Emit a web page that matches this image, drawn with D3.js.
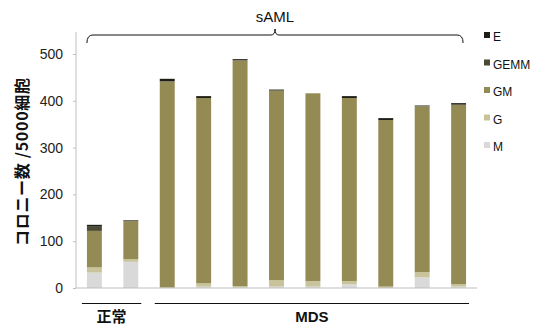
<!DOCTYPE html>
<html>
<head>
<meta charset="utf-8">
<script src="https://cdn.jsdelivr.net/npm/d3@7"></script>
<style>
  body { margin: 0; background: #fff; }
  svg { display: block; font-family: "Liberation Sans", Arial, sans-serif; }
</style>
</head>
<body>
<div id="chart"></div>
<script>
// Data
const samples = ["N1", "N2", "D1", "D2", "D3", "D4", "D5", "D6", "D7", "D8", "D9"];
const seriesKeys = ["M", "G", "GM", "GEMM", "E"];
const valM    = [33, 56, 0, 3, 1, 3, 3, 8, 0, 23, 3];
const valG    = [11, 6, 1, 7, 3, 14, 12, 7, 3, 11, 5];
const valGM   = [78, 81, 440, 396, 482, 405, 401, 391, 356, 354, 383];
const valGEMM = [9, 1, 1, 0, 1, 0, 0, 0, 0, 1, 1];
const valE    = [4, 1, 5, 4, 2, 2, 0, 4, 4, 1, 3];
const yTicks = [0, 100, 200, 300, 400, 500];
const legendItems = ["E", "GEMM", "GM", "G", "M"];
const groups = [
  { label: "正常", from: "N1", to: "N2" },
  { label: "MDS", from: "D1", to: "D9" }
];

const colors = {
  E: "#1e1e16",
  GEMM: "#4b4a34",
  GM: "#948a54",
  G: "#c9c39b",
  M: "#d9d9d9"
};

const width = 537, height = 328;
const svg = d3.select("#chart").append("svg")
  .attr("width", width)
  .attr("height", height);

const x = d3.scaleBand()
  .domain(samples)
  .range([76, 477])
  .paddingInner(0.59)
  .paddingOuter(0.3);

const y = d3.scaleLinear()
  .domain([0, 547])
  .range([288, 32]);

const rows = samples.map((s, i) => ({
  sample: s, M: valM[i], G: valG[i], GM: valGM[i], GEMM: valGEMM[i], E: valE[i]
}));
const stacked = d3.stack().keys(seriesKeys)(rows);

// bars
svg.append("g")
  .selectAll("g")
  .data(stacked)
  .join("g")
  .attr("fill", d => colors[d.key])
  .selectAll("rect")
  .data(d => d)
  .join("rect")
  .attr("x", d => x(d.data.sample))
  .attr("y", d => y(d[1]))
  .attr("width", x.bandwidth())
  .attr("height", d => y(d[0]) - y(d[1]));

// y axis
const yAxis = svg.append("g")
  .attr("transform", "translate(76,0)")
  .call(d3.axisLeft(y).tickValues(yTicks).tickSize(3).tickPadding(10));
yAxis.selectAll("line").attr("stroke", "#bfbfbf");
yAxis.select(".domain").attr("stroke", "#bfbfbf").attr("d", "M0,32V288");
yAxis.selectAll("text")
  .attr("font-size", 14)
  .attr("font-family", "Liberation Sans, Arial, sans-serif")
  .attr("fill", "#222");

// x baseline
svg.append("line")
  .attr("x1", 76).attr("x2", 477)
  .attr("y1", y(0)).attr("y2", y(0))
  .attr("stroke", "#bfbfbf");

// y label
svg.append("text")
  .attr("transform", "translate(28,162) rotate(-90)")
  .attr("text-anchor", "middle")
  .attr("font-size", 16)
  .attr("font-weight", "bold")
  .attr("font-family", "'Noto Sans CJK JP', sans-serif")
  .attr("textLength", 168)
  .attr("lengthAdjust", "spacing")
  .attr("fill", "#111")
  .text("コロニー数 /5000細胞");

// group lines & labels below
groups.forEach(g => {
  const x0 = x(g.from) - 5;
  const x1 = x(g.to) + x.bandwidth() + 3;
  svg.append("line")
    .attr("x1", x0).attr("x2", x1)
    .attr("y1", 303.5).attr("y2", 303.5)
    .attr("stroke", "#111").attr("stroke-width", 1);
  svg.append("text")
    .attr("x", (x0 + x1) / 2)
    .attr("y", 322)
    .attr("text-anchor", "middle")
    .attr("font-size", 15)
    .attr("font-weight", "bold")
    .attr("font-family", "'Liberation Sans', 'Noto Sans CJK JP', sans-serif")
    .attr("fill", "#111")
    .text(g.label);
});

// brace over all bars
const bx0 = x(samples[0]), bx1 = x(samples[samples.length - 1]) + x.bandwidth() - 3;
const bm = (bx0 + bx1) / 2, by = 35;
svg.append("path")
  .attr("d", `M${bx0},${by + 8} Q${bx0},${by} ${bx0 + 6},${by} L${bm - 4},${by} Q${bm},${by} ${bm},${by - 6} Q${bm},${by} ${bm + 4},${by} L${bx1 - 6},${by} Q${bx1},${by} ${bx1},${by + 8}`)
  .attr("fill", "none")
  .attr("stroke", "#111")
  .attr("stroke-width", 1);
svg.append("text")
  .attr("x", bm).attr("y", 22)
  .attr("text-anchor", "middle")
  .attr("font-size", 15)
  .attr("fill", "#111")
  .text("sAML");

// legend
const legend = svg.append("g")
  .selectAll("g")
  .data(legendItems)
  .join("g")
  .attr("transform", (d, i) => `translate(484,${37 + i * 27.5})`);
legend.append("rect")
  .attr("x", 0).attr("y", -5)
  .attr("width", 6).attr("height", 6)
  .attr("fill", d => colors[d]);
legend.append("text")
  .attr("x", 9).attr("y", 0)
  .attr("dy", "0.35em")
  .attr("font-size", 12)
  .attr("fill", "#111")
  .text(d => d);
</script>
</body>
</html>
